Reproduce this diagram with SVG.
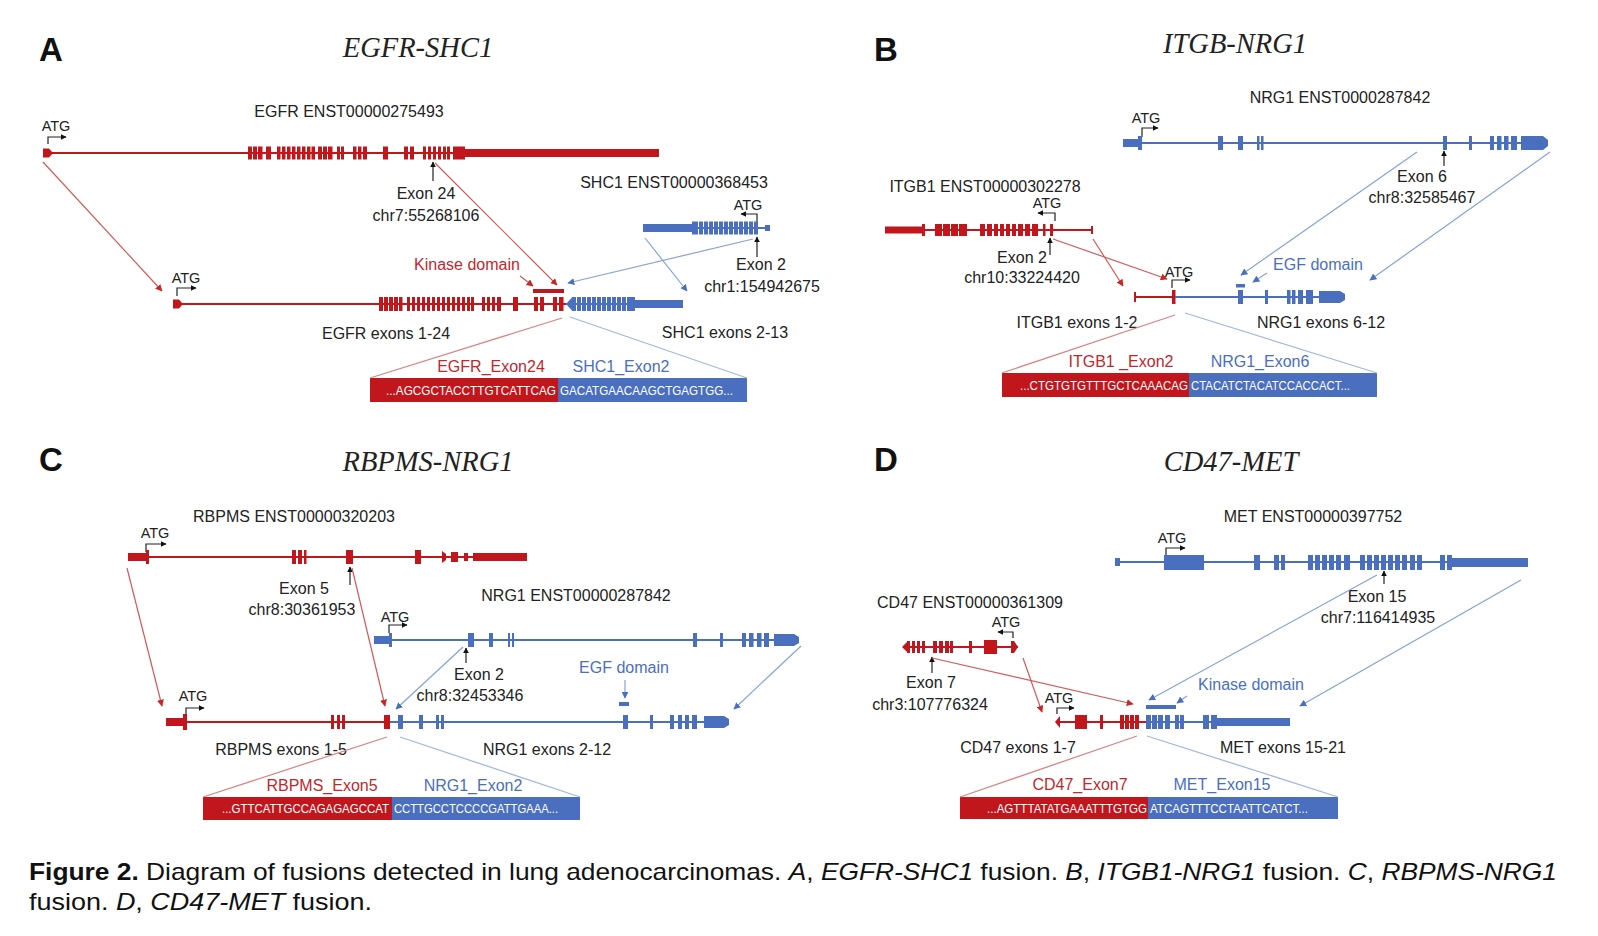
<svg xmlns="http://www.w3.org/2000/svg" width="1598" height="936" viewBox="0 0 1598 936">
<defs>
<style>
.r{fill:#c0161c}
.b{fill:#4a6fbe}
.rl{stroke:#c0161c;stroke-width:2;fill:none}
.bl{stroke:#4a6fbe;stroke-width:2;fill:none}
.rc{stroke:#d05a5a;stroke-width:1.2;fill:none}
.bc{stroke:#86a2d6;stroke-width:1.2;fill:none}
.re{stroke:#d98686;stroke-width:1.3;fill:none}
.be{stroke:#a3b8e0;stroke-width:1.3;fill:none}
.k{stroke:#222;stroke-width:1.2;fill:none}
.t{font-family:"Liberation Sans",Arial,sans-serif;font-size:16px;fill:#222;text-anchor:middle}
.atg{font-family:"Liberation Sans",Arial,sans-serif;font-size:14.5px;fill:#222;text-anchor:middle}
.rt{font-family:"Liberation Sans",Arial,sans-serif;font-size:16px;fill:#c0282d;text-anchor:middle}
.bt{font-family:"Liberation Sans",Arial,sans-serif;font-size:16px;fill:#4a6fbe;text-anchor:middle}
.sq{font-family:"Liberation Sans",Arial,sans-serif;font-size:12.5px;fill:#fff}
.ttl{font-family:"Liberation Serif","Times New Roman",serif;font-style:italic;font-size:28.5px;fill:#222;text-anchor:middle}
.pl{font-family:"Liberation Sans",Arial,sans-serif;font-weight:bold;font-size:33px;fill:#111}
.cap{font-family:"Liberation Sans",Arial,sans-serif;font-size:24px;fill:#111}
</style>
<marker id="ar" viewBox="0 0 10 10" refX="9" refY="5" markerWidth="7" markerHeight="7" orient="auto" markerUnits="userSpaceOnUse"><path d="M0,0 L10,5 L0,10 z" fill="#c62828"/></marker>
<marker id="ab" viewBox="0 0 10 10" refX="9" refY="5" markerWidth="7" markerHeight="7" orient="auto" markerUnits="userSpaceOnUse"><path d="M0,0 L10,5 L0,10 z" fill="#4a6fbe"/></marker>
<marker id="ak" viewBox="0 0 10 10" refX="9" refY="5" markerWidth="6" markerHeight="6" orient="auto" markerUnits="userSpaceOnUse"><path d="M0,0 L10,5 L0,10 z" fill="#111"/></marker>
</defs>
<rect width="1598" height="936" fill="#fff"/>

<!-- ================= PANEL A ================= -->
<text class="pl" x="39" y="61">A</text>
<text class="ttl" x="418" y="57">EGFR-SHC1</text>

<g id="egfr-gene">
<text class="t" x="349" y="117">EGFR ENST00000275493</text>
<text class="atg" x="56" y="131">ATG</text>
<path class="k" d="M48,144 V137 H66" marker-end="url(#ak)"/>
<line class="rl" x1="49" y1="153" x2="466" y2="153"/>
<polygon class="r" points="43,148.5 49,148.5 53,153 49,157.5 43,157.5"/>
<g class="r">
<rect x="248" y="146.5" width="4" height="13"/><rect x="253" y="146.5" width="4" height="13"/><rect x="258" y="146.5" width="4.5" height="13"/>
<rect x="266" y="146.5" width="5" height="13"/>
<rect x="277" y="146.5" width="3.5" height="13"/><rect x="282" y="146.5" width="3.5" height="13"/><rect x="287" y="146.5" width="3.5" height="13"/><rect x="292" y="146.5" width="3.5" height="13"/><rect x="297" y="146.5" width="3.5" height="13"/><rect x="302" y="146.5" width="3.5" height="13"/><rect x="307" y="146.5" width="3.5" height="13"/><rect x="311.5" y="146.5" width="3.5" height="13"/>
<rect x="318" y="146.5" width="4" height="13"/><rect x="323" y="146.5" width="4" height="13"/><rect x="328" y="146.5" width="4.5" height="13"/>
<rect x="337" y="146.5" width="3" height="13"/><rect x="341" y="146.5" width="3" height="13"/>
<rect x="353" y="146.5" width="3.5" height="13"/><rect x="358" y="146.5" width="3.5" height="13"/><rect x="363" y="146.5" width="4" height="13"/>
<rect x="383" y="146.5" width="5" height="13"/>
<rect x="404" y="146.5" width="4" height="13"/><rect x="410" y="146.5" width="4" height="13"/>
<rect x="423" y="146.5" width="3" height="13"/><rect x="428" y="146.5" width="3" height="13"/><rect x="433" y="146.5" width="3" height="13"/><rect x="438" y="146.5" width="3" height="13"/><rect x="443" y="146.5" width="3" height="13"/><rect x="447" y="146.5" width="3" height="13"/>
<rect x="453" y="146.5" width="12" height="13"/>
<rect x="465" y="149" width="194" height="8"/>
</g>
<line class="k" x1="433" y1="181" x2="433" y2="162" marker-end="url(#ak)"/>
<text class="t" x="426" y="199">Exon 24</text>
<text class="t" x="426" y="221">chr7:55268106</text>
</g>

<g id="shc1-gene">
<text class="t" x="674" y="188">SHC1 ENST00000368453</text>
<text class="atg" x="748" y="210">ATG</text>
<path class="k" d="M757,222 V214 H741" marker-end="url(#ak)"/>
<line class="bl" x1="690" y1="228" x2="766" y2="228"/>
<g class="b">
<rect x="643" y="224" width="49" height="8"/>
<rect x="692" y="221.5" width="6" height="13"/><rect x="699" y="221.5" width="4" height="13"/><rect x="704" y="221.5" width="4" height="13"/><rect x="709" y="221.5" width="4" height="13"/><rect x="714" y="221.5" width="4" height="13"/><rect x="719" y="221.5" width="4" height="13"/><rect x="724" y="221.5" width="4" height="13"/><rect x="729" y="221.5" width="4" height="13"/><rect x="734" y="221.5" width="4" height="13"/><rect x="739" y="221.5" width="4" height="13"/><rect x="744" y="221.5" width="4" height="13"/><rect x="749" y="221.5" width="4" height="13"/><rect x="754" y="221.5" width="4" height="13"/>
<rect x="765" y="225" width="5" height="6"/>
</g>
<line class="k" x1="757" y1="257" x2="757" y2="237" marker-end="url(#ak)"/>
<text class="t" x="761" y="270">Exon 2</text>
<text class="t" x="762" y="292">chr1:154942675</text>
</g>

<g id="egfr-shc1-fusion">
<text class="atg" x="186" y="283">ATG</text>
<path class="k" d="M177,296 V288 H196" marker-end="url(#ak)"/>
<line class="rl" x1="180" y1="304" x2="566" y2="304"/>
<polygon class="r" points="173,299.5 179,299.5 183,304 179,308.5 173,308.5"/>
<g class="r">
<rect x="379" y="297" width="4" height="14"/><rect x="384" y="297" width="4" height="14"/><rect x="389" y="297" width="4" height="14"/><rect x="394" y="297" width="4" height="14"/><rect x="399" y="297" width="3.5" height="14"/>
<rect x="407" y="297" width="3" height="14"/><rect x="412" y="297" width="3" height="14"/><rect x="417" y="297" width="3" height="14"/><rect x="422" y="297" width="3" height="14"/><rect x="427" y="297" width="3" height="14"/><rect x="432" y="297" width="3" height="14"/><rect x="437" y="297" width="3" height="14"/><rect x="442" y="297" width="3" height="14"/><rect x="447" y="297" width="3" height="14"/><rect x="452" y="297" width="3" height="14"/><rect x="457" y="297" width="3" height="14"/><rect x="462" y="297" width="3" height="14"/><rect x="467" y="297" width="3" height="14"/><rect x="471" y="297" width="3" height="14"/>
<rect x="482" y="297" width="3" height="14"/><rect x="487" y="297" width="3" height="14"/><rect x="492" y="297" width="3" height="14"/><rect x="497" y="297" width="4" height="14"/>
<rect x="513" y="297" width="5" height="14"/>
<rect x="534" y="297" width="4" height="14"/><rect x="540" y="297" width="4" height="14"/>
<rect x="553" y="297" width="4" height="14"/><rect x="559" y="297" width="4.5" height="14"/>
<rect x="533" y="289" width="31" height="4"/>
</g>
<line class="bl" x1="566" y1="304" x2="636" y2="304"/>
<g class="b">
<polygon points="566,304 572,297.5 572,310.5"/>
<rect x="572" y="297" width="4" height="14"/><rect x="577" y="297" width="4" height="14"/><rect x="582" y="297" width="4" height="14"/><rect x="587" y="297" width="4" height="14"/><rect x="592" y="297" width="4" height="14"/><rect x="597" y="297" width="4" height="14"/><rect x="602" y="297" width="4" height="14"/><rect x="607" y="297" width="4" height="14"/><rect x="612" y="297" width="4" height="14"/><rect x="617" y="297" width="4" height="14"/><rect x="622" y="297" width="4" height="14"/><rect x="627" y="297" width="4" height="14"/><rect x="631" y="297" width="4" height="14"/>
<rect x="635" y="300" width="48" height="8"/>
</g>
<text class="rt" x="467" y="270">Kinase domain</text>
<text class="t" x="386" y="339">EGFR exons 1-24</text>
<text class="t" x="725" y="338">SHC1 exons 2-13</text>
<text class="rt" x="491" y="372">EGFR_Exon24</text>
<text class="bt" x="621" y="372">SHC1_Exon2</text>
<rect class="r" x="370" y="378" width="188" height="24"/>
<rect class="b" x="558" y="378" width="189" height="24"/>
<text class="sq" x="386" y="395" textLength="170" lengthAdjust="spacingAndGlyphs">...AGCGCTACCTTGTCATTCAG</text>
<text class="sq" x="560" y="395" textLength="173" lengthAdjust="spacingAndGlyphs">GACATGAACAAGCTGAGTGG...</text>
</g>

<g id="connectors-a">
<line class="rc" x1="43" y1="162" x2="162" y2="291" marker-end="url(#ar)"/>
<line class="rc" x1="435" y1="163" x2="557" y2="285" marker-end="url(#ar)"/>
<line class="rc" x1="520" y1="276" x2="533" y2="286" marker-end="url(#ar)"/>
<line class="bc" x1="753" y1="239" x2="568" y2="283" marker-end="url(#ab)"/>
<line class="bc" x1="645" y1="238" x2="687" y2="291" marker-end="url(#ab)"/>
<line class="re" x1="562" y1="318" x2="370" y2="378"/>
<line class="be" x1="570" y1="317" x2="747" y2="378"/>
</g>

<!-- ================= PANEL B ================= -->
<text class="pl" x="874" y="61">B</text>
<text class="ttl" x="1235" y="53">ITGB-NRG1</text>

<g id="nrg1-gene-b">
<text class="t" x="1340" y="103">NRG1 ENST0000287842</text>
<text class="atg" x="1146" y="123">ATG</text>
<path class="k" d="M1142,137 V128 H1158" marker-end="url(#ak)"/>
<line class="bl" x1="1138" y1="143" x2="1524" y2="143"/>
<g class="b">
<rect x="1123" y="139" width="15" height="8"/>
<rect x="1138" y="136" width="4" height="14"/>
<rect x="1218" y="136" width="5" height="14"/><rect x="1238" y="136" width="5" height="14"/><rect x="1257" y="136" width="2.5" height="14"/><rect x="1261" y="136" width="2.5" height="14"/>
<rect x="1443" y="136" width="4" height="14"/><rect x="1469" y="136" width="3" height="14"/><rect x="1490" y="136" width="4" height="14"/><rect x="1497" y="136" width="4.5" height="14"/><rect x="1504" y="136" width="4.5" height="14"/><rect x="1511" y="136" width="6" height="14"/>
<polygon points="1521,136 1543,136 1548,140 1548,146 1543,150 1521,150"/>
</g>
<line class="k" x1="1444" y1="166" x2="1444" y2="151" marker-end="url(#ak)"/>
<text class="t" x="1422" y="182">Exon 6</text>
<text class="t" x="1422" y="203">chr8:32585467</text>
</g>

<g id="itgb1-gene">
<text class="t" x="985" y="192">ITGB1 ENST00000302278</text>
<text class="atg" x="1047" y="208">ATG</text>
<path class="k" d="M1055,221 V213 H1038" marker-end="url(#ak)"/>
<line class="rl" x1="922" y1="230" x2="1092" y2="230"/>
<g class="r">
<rect x="885" y="226.5" width="37" height="7"/>
<rect x="922" y="224" width="3" height="12"/>
<rect x="935" y="224" width="7" height="12"/><rect x="943" y="224" width="7" height="12"/><rect x="951" y="224" width="7" height="12"/><rect x="959" y="224" width="8" height="12"/>
<rect x="980" y="224" width="5" height="12"/><rect x="987" y="224" width="5" height="12"/><rect x="994" y="224" width="4" height="12"/><rect x="1000" y="224" width="4" height="12"/><rect x="1006" y="224" width="4" height="12"/><rect x="1012" y="224" width="4" height="12"/><rect x="1018" y="224" width="5" height="12"/><rect x="1025" y="224" width="5" height="12"/><rect x="1032" y="224" width="6" height="12"/>
<rect x="1043" y="224" width="2.5" height="12"/><rect x="1050" y="224" width="3" height="12"/>
<rect x="1091" y="226" width="2" height="8"/>
</g>
<line class="k" x1="1050" y1="255" x2="1050" y2="238" marker-end="url(#ak)"/>
<text class="t" x="1022" y="263">Exon 2</text>
<text class="t" x="1022" y="283">chr10:33224420</text>
</g>

<g id="itgb1-nrg1-fusion">
<text class="atg" x="1179" y="277">ATG</text>
<path class="k" d="M1172,288 V280 H1190" marker-end="url(#ak)"/>
<line class="rl" x1="1135" y1="297" x2="1174" y2="297"/>
<rect class="r" x="1134" y="292" width="2" height="10"/>
<rect class="r" x="1172" y="290" width="3.5" height="14"/>
<line class="bl" x1="1175" y1="297" x2="1321" y2="297"/>
<g class="b">
<rect x="1238" y="290" width="5" height="14"/><rect x="1265" y="290" width="3" height="14"/>
<rect x="1287" y="290" width="3.5" height="14"/><rect x="1292" y="290" width="3.5" height="14"/><rect x="1298" y="290" width="5" height="14"/><rect x="1306" y="290" width="7" height="14"/>
<polygon points="1319,291 1340,291 1345,294 1345,300 1340,303 1319,303"/>
<rect x="1236" y="284" width="9" height="3.5"/>
</g>
<text class="bt" x="1318" y="270">EGF domain</text>
<text class="t" x="1077" y="328">ITGB1 exons 1-2</text>
<text class="t" x="1321" y="328">NRG1 exons 6-12</text>
<text class="rt" x="1121" y="367">ITGB1 _Exon2</text>
<text class="bt" x="1260" y="367">NRG1_Exon6</text>
<rect class="r" x="1002" y="373" width="187" height="24"/>
<rect class="b" x="1189" y="373" width="188" height="24"/>
<text class="sq" x="1020" y="390" textLength="168" lengthAdjust="spacingAndGlyphs">...CTGTGTGTTTGCTCAAACAG</text>
<text class="sq" x="1191" y="390" textLength="159" lengthAdjust="spacingAndGlyphs">CTACATCTACATCCACCACT...</text>
</g>

<g id="connectors-b">
<line class="rc" x1="1053" y1="239" x2="1167" y2="279" marker-end="url(#ar)"/>
<line class="rc" x1="1093" y1="239" x2="1123" y2="286" marker-end="url(#ar)"/>
<line class="bc" x1="1417" y1="152" x2="1241" y2="275" marker-end="url(#ab)"/>
<line class="bc" x1="1550" y1="152" x2="1370" y2="280" marker-end="url(#ab)"/>
<line class="bc" x1="1267" y1="273" x2="1253" y2="282" marker-end="url(#ab)"/>
<line class="re" x1="1175" y1="315" x2="1002" y2="373"/>
<line class="be" x1="1185" y1="313" x2="1377" y2="373"/>
</g>

<!-- ================= PANEL C ================= -->
<text class="pl" x="39" y="471">C</text>
<text class="ttl" x="428" y="471">RBPMS-NRG1</text>

<g id="rbpms-gene">
<text class="t" x="294" y="522">RBPMS ENST00000320203</text>
<text class="atg" x="155" y="538">ATG</text>
<path class="k" d="M146,552 V544 H166" marker-end="url(#ak)"/>
<line class="rl" x1="146" y1="557" x2="474" y2="557"/>
<g class="r">
<rect x="128" y="553" width="18" height="8"/>
<rect x="146" y="550" width="3" height="14"/>
<rect x="292" y="550" width="4" height="14"/><rect x="298" y="550" width="4" height="14"/><rect x="304" y="550" width="2.5" height="14"/>
<rect x="346" y="550" width="7" height="14"/>
<rect x="415" y="550" width="6" height="14"/>
<polygon points="442,551 446,554 446,560 442,563"/>
<rect x="451" y="552" width="7" height="10"/><rect x="464" y="553" width="4" height="8"/>
<rect x="473" y="553" width="54" height="8"/>
</g>
<line class="k" x1="350" y1="585" x2="350" y2="567" marker-end="url(#ak)"/>
<text class="t" x="304" y="594">Exon 5</text>
<text class="t" x="302" y="615">chr8:30361953</text>
</g>

<g id="nrg1-gene-c">
<text class="t" x="576" y="601">NRG1 ENST00000287842</text>
<text class="atg" x="395" y="622">ATG</text>
<path class="k" d="M389,633 V625 H407" marker-end="url(#ak)"/>
<line class="bl" x1="389" y1="640" x2="775" y2="640"/>
<g class="b">
<rect x="374" y="636" width="15" height="8"/>
<rect x="389" y="633" width="3" height="14"/>
<rect x="468" y="633" width="6" height="14"/><rect x="489" y="633" width="4" height="14"/><rect x="508" y="633" width="2" height="14"/><rect x="512" y="633" width="2" height="14"/>
<rect x="693" y="633" width="4" height="14"/><rect x="720" y="633" width="3" height="14"/><rect x="742" y="633" width="4" height="14"/><rect x="749" y="633" width="4.5" height="14"/><rect x="757" y="633" width="4.5" height="14"/><rect x="764" y="633" width="5" height="14"/>
<polygon points="774,634 794,634 799,637 799,643 794,646 774,646"/>
</g>
<line class="k" x1="466" y1="663" x2="466" y2="648" marker-end="url(#ak)"/>
<text class="t" x="479" y="680">Exon 2</text>
<text class="t" x="470" y="701">chr8:32453346</text>
</g>

<g id="rbpms-nrg1-fusion">
<text class="atg" x="193" y="701">ATG</text>
<path class="k" d="M186,715 V708 H204" marker-end="url(#ak)"/>
<line class="rl" x1="186" y1="722" x2="390" y2="722"/>
<g class="r">
<rect x="166" y="718" width="17" height="8"/>
<rect x="183" y="714" width="4" height="16"/>
<rect x="331" y="715" width="3" height="14"/><rect x="337" y="715" width="3" height="14"/><rect x="342" y="715" width="3" height="14"/>
<rect x="384" y="715" width="6" height="14"/>
</g>
<line class="bl" x1="390" y1="722" x2="705" y2="722"/>
<g class="b">
<rect x="398" y="715" width="5" height="14"/><rect x="419" y="715" width="4" height="14"/><rect x="436" y="715" width="3" height="14"/><rect x="441" y="715" width="3" height="14"/>
<rect x="623" y="715" width="5" height="14"/><rect x="650" y="715" width="3" height="14"/><rect x="670" y="715" width="4" height="14"/><rect x="678" y="715" width="4" height="14"/><rect x="685" y="715" width="4" height="14"/><rect x="692" y="715" width="5" height="14"/>
<polygon points="704,716 724,716 729,719 729,725 724,728 704,728"/>
<rect x="619" y="702" width="10" height="4"/>
</g>
<text class="bt" x="624" y="673">EGF domain</text>
<text class="t" x="281" y="755">RBPMS exons 1-5</text>
<text class="t" x="547" y="755">NRG1 exons 2-12</text>
<text class="rt" x="322" y="791">RBPMS_Exon5</text>
<text class="bt" x="473" y="791">NRG1_Exon2</text>
<rect class="r" x="203" y="797" width="189" height="23"/>
<rect class="b" x="392" y="797" width="188" height="23"/>
<text class="sq" x="222" y="813" textLength="167" lengthAdjust="spacingAndGlyphs">...GTTCATTGCCAGAGAGCCAT</text>
<text class="sq" x="394" y="813" textLength="164" lengthAdjust="spacingAndGlyphs">CCTTGCCTCCCCGATTGAAA...</text>
</g>

<g id="connectors-c">
<line class="rc" x1="127" y1="568" x2="162" y2="706" marker-end="url(#ar)"/>
<line class="rc" x1="352" y1="568" x2="385" y2="706" marker-end="url(#ar)"/>
<line class="bc" x1="463" y1="647" x2="396" y2="709" marker-end="url(#ab)"/>
<line class="bc" x1="801" y1="646" x2="734" y2="709" marker-end="url(#ab)"/>
<line class="bc" x1="625" y1="680" x2="625" y2="698" marker-end="url(#ab)"/>
<line class="re" x1="387" y1="737" x2="203" y2="797"/>
<line class="be" x1="400" y1="737" x2="580" y2="797"/>
</g>

<!-- ================= PANEL D ================= -->
<text class="pl" x="874" y="471">D</text>
<text class="ttl" x="1231" y="471">CD47-MET</text>

<g id="met-gene">
<text class="t" x="1313" y="522">MET ENST00000397752</text>
<text class="atg" x="1172" y="543">ATG</text>
<path class="k" d="M1166,555 V548 H1185" marker-end="url(#ak)"/>
<line class="bl" x1="1118" y1="562" x2="1455" y2="562"/>
<g class="b">
<rect x="1115" y="558" width="5" height="8"/>
<rect x="1164" y="555" width="40" height="15"/>
<rect x="1254" y="555" width="6" height="15"/><rect x="1274" y="555" width="5" height="15"/><rect x="1281" y="555" width="4" height="15"/>
<rect x="1308" y="555" width="5" height="15"/><rect x="1315" y="555" width="5" height="15"/><rect x="1322" y="555" width="5" height="15"/><rect x="1329" y="555" width="5" height="15"/><rect x="1336" y="555" width="5" height="15"/><rect x="1344" y="555" width="6" height="15"/>
<rect x="1360" y="555" width="5" height="15"/><rect x="1367" y="555" width="5" height="15"/><rect x="1374" y="555" width="5" height="15"/><rect x="1381" y="555" width="5" height="15"/><rect x="1388" y="555" width="5" height="15"/><rect x="1395" y="555" width="5" height="15"/><rect x="1402" y="555" width="5" height="15"/><rect x="1410" y="555" width="5" height="15"/><rect x="1417" y="555" width="5" height="15"/>
<rect x="1440" y="555" width="5" height="15"/><rect x="1447" y="555" width="5" height="15"/>
<rect x="1452" y="558" width="76" height="9"/>
</g>
<line class="k" x1="1384" y1="584" x2="1384" y2="571" marker-end="url(#ak)"/>
<text class="t" x="1377" y="602">Exon 15</text>
<text class="t" x="1378" y="623">chr7:116414935</text>
</g>

<g id="cd47-gene">
<text class="t" x="970" y="608">CD47 ENST00000361309</text>
<text class="atg" x="1006" y="627">ATG</text>
<path class="k" d="M1013,638 V632 H998" marker-end="url(#ak)"/>
<line class="rl" x1="903" y1="647" x2="1018" y2="647"/>
<g class="r">
<polygon points="902,647 907,642 907,652"/>
<rect x="907" y="641" width="3" height="12"/><rect x="912" y="641" width="3" height="12"/><rect x="917" y="641" width="3" height="12"/><rect x="922" y="641" width="3" height="12"/>
<rect x="933" y="641" width="4" height="12"/><rect x="939" y="641" width="4" height="12"/><rect x="945" y="641" width="4" height="12"/><rect x="950" y="641" width="3" height="12"/>
<rect x="969" y="641" width="3" height="12"/>
<rect x="984" y="640" width="13" height="14"/>
<polygon points="1011,641 1014,641 1018,647 1014,653 1011,653"/>
</g>
<line class="k" x1="932" y1="673" x2="932" y2="657" marker-end="url(#ak)"/>
<text class="t" x="931" y="688">Exon 7</text>
<text class="t" x="930" y="710">chr3:107776324</text>
</g>

<g id="cd47-met-fusion">
<text class="atg" x="1059" y="703">ATG</text>
<path class="k" d="M1057,714 V708 H1074" marker-end="url(#ak)"/>
<line class="rl" x1="1057" y1="722" x2="1146" y2="722"/>
<g class="r">
<polygon points="1055,722 1060,716 1060,728"/>
<rect x="1075" y="715" width="12" height="14"/>
<rect x="1100" y="715" width="3" height="14"/>
<rect x="1120" y="715" width="4" height="14"/><rect x="1125" y="715" width="4" height="14"/><rect x="1130" y="715" width="4" height="14"/><rect x="1135" y="715" width="4" height="14"/>
</g>
<line class="bl" x1="1146" y1="722" x2="1219" y2="722"/>
<g class="b">
<rect x="1146" y="715" width="5" height="14"/><rect x="1152" y="715" width="5" height="14"/><rect x="1158" y="715" width="5" height="14"/><rect x="1165" y="715" width="5" height="14"/>
<rect x="1175" y="715" width="4" height="14"/><rect x="1180" y="715" width="4" height="14"/>
<rect x="1203" y="715" width="6" height="14"/><rect x="1211" y="715" width="6" height="14"/>
<rect x="1217" y="718" width="73" height="8"/>
<rect x="1146" y="705" width="30" height="4"/>
</g>
<text class="bt" x="1251" y="690">Kinase domain</text>
<text class="t" x="1018" y="753">CD47 exons 1-7</text>
<text class="t" x="1283" y="753">MET exons 15-21</text>
<text class="rt" x="1080" y="790">CD47_Exon7</text>
<text class="bt" x="1222" y="790">MET_Exon15</text>
<rect class="r" x="960" y="797" width="188" height="22"/>
<rect class="b" x="1148" y="797" width="190" height="22"/>
<text class="sq" x="987" y="813" textLength="160" lengthAdjust="spacingAndGlyphs">...AGTTTATATGAAATTTGTGG</text>
<text class="sq" x="1150" y="813" textLength="158" lengthAdjust="spacingAndGlyphs">ATCAGTTTCCTAATTCATCT...</text>
</g>

<g id="connectors-d">
<line class="rc" x1="932" y1="658" x2="1133" y2="704" marker-end="url(#ar)"/>
<line class="rc" x1="1023" y1="658" x2="1042" y2="712" marker-end="url(#ar)"/>
<line class="bc" x1="1377" y1="575" x2="1149" y2="700" marker-end="url(#ab)"/>
<line class="bc" x1="1521" y1="580" x2="1300" y2="706" marker-end="url(#ab)"/>
<line class="bc" x1="1187" y1="696" x2="1177" y2="703" marker-end="url(#ab)"/>
<line class="re" x1="1137" y1="736" x2="960" y2="797"/>
<line class="be" x1="1147" y1="736" x2="1338" y2="797"/>
</g>

<!-- ================= CAPTION ================= -->
<g id="caption">
<text class="cap" x="29" y="880" textLength="1528" lengthAdjust="spacingAndGlyphs"><tspan font-weight="bold">Figure 2.</tspan> Diagram of fusions detected in lung adenocarcinomas. <tspan font-style="italic">A</tspan>, <tspan font-style="italic">EGFR-SHC1</tspan> fusion. <tspan font-style="italic">B</tspan>, <tspan font-style="italic">ITGB1-NRG1</tspan> fusion. <tspan font-style="italic">C</tspan>, <tspan font-style="italic">RBPMS-NRG1</tspan></text>
<text class="cap" x="29" y="910" textLength="343" lengthAdjust="spacingAndGlyphs">fusion. <tspan font-style="italic">D</tspan>, <tspan font-style="italic">CD47-MET</tspan> fusion.</text>
</g>
</svg>
